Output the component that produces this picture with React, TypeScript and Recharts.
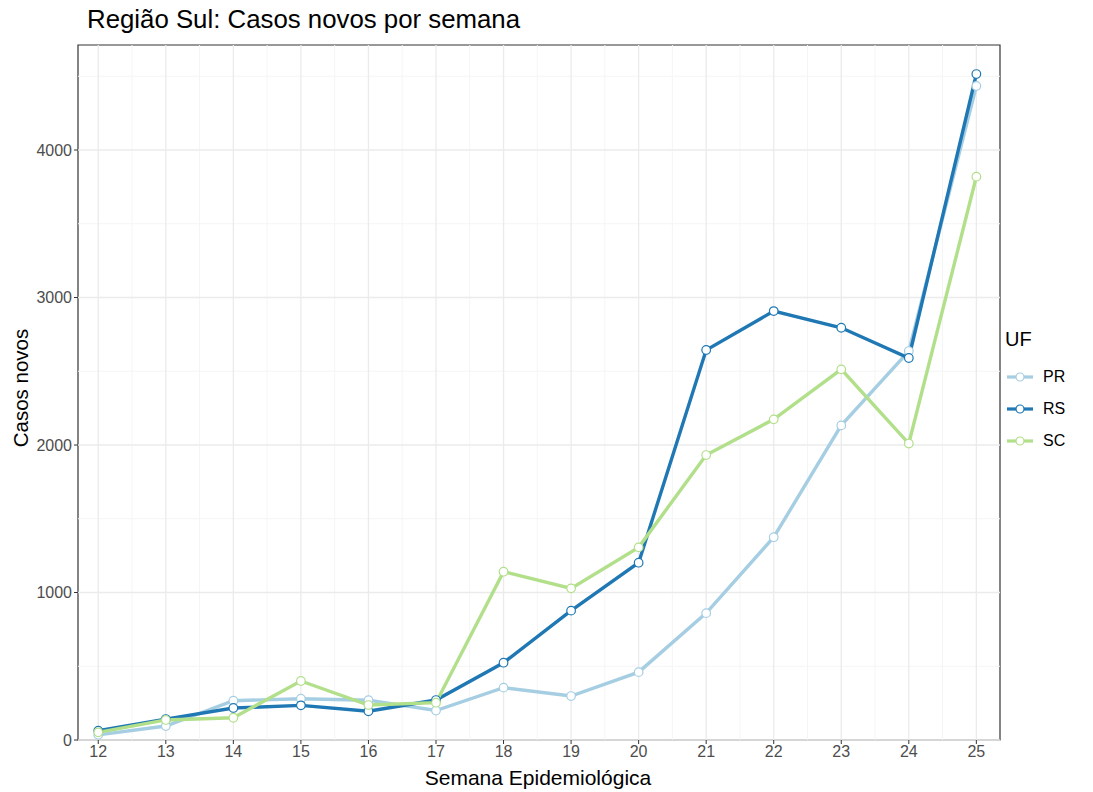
import React from "react"
import {
  LineChart,
  Line,
  XAxis,
  YAxis,
  ReferenceLine,
  ReferenceArea,
} from "recharts"

const weeks = [12, 13, 14, 15, 16, 17, 18, 19, 20, 21, 22, 23, 24, 25]
const pr = [35, 95, 266, 280, 270, 200, 355, 298, 460, 860, 1375, 2133, 2637, 4434]
const rs = [63, 142, 217, 235, 195, 271, 524, 877, 1202, 2644, 2908, 2795, 2590, 4515]
const sc = [52, 136, 151, 400, 237, 253, 1141, 1028, 1306, 1932, 2174, 2513, 2010, 3819]

const yTicks = [0, 1000, 2000, 3000, 4000]
const yMinor = [500, 1500, 2500, 3500, 4500]
const xMinor = [12.5, 13.5, 14.5, 15.5, 16.5, 17.5, 18.5, 19.5, 20.5, 21.5, 22.5, 23.5, 24.5]

const series = [
  { key: "PR", values: pr, color: "#a6cee3" },
  { key: "RS", values: rs, color: "#1f78b4" },
  { key: "SC", values: sc, color: "#b2df8a" },
]

const data = weeks.map((w, i) => ({ week: w, PR: pr[i], RS: rs[i], SC: sc[i] }))

const font = "Arial, 'Liberation Sans', sans-serif"
const xDomain: [number, number] = [11.7, 25.35]
const yDomain: [number, number] = [0, 4712]

function LegendBox() {
  return (
    <div style={{ position: "absolute", left: 1005, top: 328, fontFamily: font, color: "#000" }}>
      <div style={{ fontSize: 20, marginBottom: 10 }}>UF</div>
      {series.map((s) => (
        <div key={s.key} style={{ display: "flex", alignItems: "center", height: 32 }}>
          <svg width={30} height={12}>
            <line x1={2} y1={6} x2={28} y2={6} stroke={s.color} strokeWidth={3.2} />
            <circle cx={15} cy={6} r={4} fill="#fff" stroke={s.color} strokeWidth={1.2} />
          </svg>
          <span style={{ fontSize: 16, marginLeft: 8 }}>{s.key}</span>
        </div>
      ))}
    </div>
  )
}

export default function App() {
  return (
    <div style={{ position: "absolute", left: 0, top: 0, width: 1093, height: 792, background: "#fff" }}>
      <div style={{ position: "absolute", left: 87, top: 5, fontFamily: font, fontSize: 25.8, color: "#000", whiteSpace: "nowrap" }}>
        Região Sul: Casos novos por semana
      </div>
      <div
        style={{
          position: "absolute",
          left: 21,
          top: 388,
          transform: "translate(-50%, -50%) rotate(-90deg)",
          fontFamily: font,
          fontSize: 20.5,
          whiteSpace: "nowrap",
        }}
      >
        Casos novos
      </div>
      <div
        style={{
          position: "absolute",
          left: 538,
          top: 778,
          transform: "translate(-50%, -50%)",
          fontFamily: font,
          fontSize: 21,
          whiteSpace: "nowrap",
        }}
      >
        Semana Epidemiológica
      </div>
      <LegendBox />
      <LineChart
        width={1093}
        height={792}
        data={data}
        margin={{ top: 45, right: 93, bottom: 22, left: 0 }}
        style={{ position: "absolute", left: 0, top: 0 }}
      >
        <XAxis
          dataKey="week"
          type="number"
          domain={xDomain}
          ticks={weeks}
          allowDataOverflow
          height={30}
          tick={{ fill: "#4d4d4d", fontSize: 16, fontFamily: font }}
          tickLine={{ stroke: "#333" }}
          tickSize={4}
          axisLine={false}
          interval={0}
        />
        <YAxis
          type="number"
          domain={yDomain}
          ticks={yTicks}
          allowDataOverflow
          width={78}
          tick={{ fill: "#4d4d4d", fontSize: 16, fontFamily: font }}
          tickLine={{ stroke: "#333" }}
          tickSize={4}
          axisLine={false}
        />
        {yMinor.map((v) => (
          <ReferenceLine key={"ym" + v} y={v} stroke="#f5f5f5" strokeWidth={1} />
        ))}
        {xMinor.map((v) => (
          <ReferenceLine key={"xm" + v} x={v} stroke="#f5f5f5" strokeWidth={1} />
        ))}
        {yTicks.map((v) => (
          <ReferenceLine key={"y" + v} y={v} stroke="#ebebeb" strokeWidth={1.3} />
        ))}
        {weeks.map((v) => (
          <ReferenceLine key={"x" + v} x={v} stroke="#ebebeb" strokeWidth={1.3} />
        ))}
        {series.map((s) => (
          <Line
            key={s.key}
            type="linear"
            dataKey={s.key}
            stroke={s.color}
            strokeWidth={3.4}
            dot={{ r: 4.3, fill: "#fff", stroke: s.color, strokeWidth: 1.2 }}
            activeDot={false}
            isAnimationActive={false}
          />
        ))}
        <ReferenceArea
          x1={xDomain[0]}
          x2={xDomain[1]}
          y1={yDomain[0]}
          y2={yDomain[1]}
          fill="none"
          fillOpacity={0}
          stroke="#333"
          strokeWidth={1.2}
          ifOverflow="extendDomain"
        />
      </LineChart>
    </div>
  )
}
